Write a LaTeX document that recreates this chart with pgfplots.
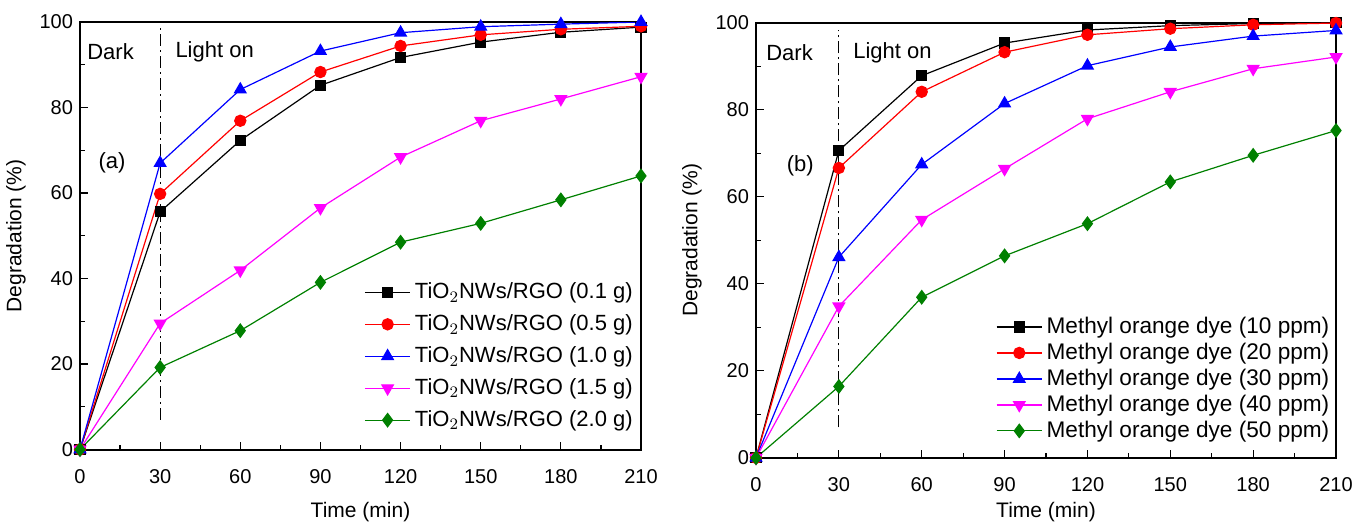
\documentclass[border=0pt]{standalone}
\usepackage{fontspec}
\setmainfont{Liberation Sans}
\usepackage{pgfplots}
\pgfplotsset{compat=1.18}
\definecolor{dgreen}{RGB}{0,128,0}
\definecolor{mag}{RGB}{255,0,255}
\tikzset{txt/.style={anchor=west, inner sep=0pt, font=\fontsize{11}{13}\selectfont}}
\begin{document}
\begin{tikzpicture}
\useasboundingbox (0,0) rectangle (676.5pt,-260.5pt);
\pgfplotsset{
  panel/.style={
    scale only axis,
    anchor=north west,
    xmin=0, xmax=210, ymin=0, ymax=100,
    xtick={0,30,...,210}, ytick={0,20,...,100},
    minor x tick num=1, minor y tick num=1,
    tick align=inside, tick pos=left,
    major tick length=4pt, minor tick length=2.5pt,
    axis line style={line width=1pt},
    every tick/.style={black, line width=0.6pt},
    /pgf/number format/assume math mode=true,
    tick label style={font=\fontsize{10}{12}\selectfont},
    xticklabel style={yshift=-6.5pt},
    label style={font=\fontsize{10.5}{12}\selectfont},
    xlabel={Time (min)}, ylabel={Degradation (\%)},
    legend cell align=left,
    legend style={draw=none, fill=none, inner sep=0pt,
      font=\fontsize{11}{13}\selectfont},
    legend image code/.code={\draw[mark repeat=2,mark phase=2]
      plot coordinates {(0cm,0cm) (0.4cm,0cm) (0.8cm,0cm)};},
    every axis plot/.append style={line width=0.6pt},
  },
  s1/.style={black, mark=square*, mark size=2.5pt},
  s2/.style={red, mark=*, mark size=2.8pt},
  s3/.style={blue, mark=triangle*, mark size=3.3pt},
  s4/.style={mag, mark=triangle*, mark size=3.3pt, mark options={rotate=180}},
  s5/.style={dgreen, mark=diamond*, mark size=3.3pt},
  dd/.style={black, line width=0.6pt, dash pattern=on 6pt off 2pt on 1pt off 2pt, forget plot},
}

% panel (a)
\begin{axis}[panel, at={(40pt,-11pt)}, width=280.5pt, height=213.75pt,
  xlabel style={yshift=-2.5pt},
  legend style={at={(0.993,0.40)}, anchor=north east, row sep=2.5pt}]
\addplot[dd] coordinates {(30,7) (30,99)};
\addplot[s1] coordinates {(0,0) (30,55.6) (60,72.3) (90,85.2) (120,91.7) (150,95.3) (180,97.6) (210,98.8)};
\addlegendentry{TiO$_2$NWs/RGO (0.1 g)}
\addplot[s2] coordinates {(0,0) (30,59.8) (60,76.9) (90,88.3) (120,94.4) (150,97.0) (180,98.3) (210,99.0)};
\addlegendentry{TiO$_2$NWs/RGO (0.5 g)}
\addplot[s3] coordinates {(0,0) (30,67.0) (60,84.2) (90,93.2) (120,97.5) (150,98.9) (180,99.5) (210,100)};
\addlegendentry{TiO$_2$NWs/RGO (1.0 g)}
\addplot[s4] coordinates {(0,0) (30,29.5) (60,41.9) (90,56.5) (120,68.4) (150,76.9) (180,82.0) (210,87.2)};
\addlegendentry{TiO$_2$NWs/RGO (1.5 g)}
\addplot[s5] coordinates {(0,0) (30,19.2) (60,27.8) (90,39.1) (120,48.5) (150,52.9) (180,58.4) (210,64.0)};
\addlegendentry{TiO$_2$NWs/RGO (2.0 g)}
\node[txt] at (axis cs:2.6,93) {Dark};
\node[txt] at (axis cs:35.6,93) {Light on};
\node[font=\fontsize{11}{13}\selectfont] at (axis cs:12,67) {(a)};
\end{axis}

% panel (b)
\begin{axis}[panel, at={(378pt,-11.3pt)}, width=290pt, height=217.6pt,
  xlabel style={yshift=1.5pt},
  legend style={at={(0.996,0.333)}, anchor=north east, row sep=-0.7pt,
    font=\fontsize{11.3}{13}\selectfont}]
\addplot[dd] coordinates {(30,7) (30,98.3)};
\addplot[s1] coordinates {(0,0) (30,70.6) (60,87.8) (90,95.3) (120,98.3) (150,99.3) (180,99.8) (210,100)};
\addlegendentry{Methyl orange dye (10 ppm)}
\addplot[s2] coordinates {(0,0) (30,66.6) (60,84.1) (90,93.2) (120,97.2) (150,98.6) (180,99.5) (210,99.9)};
\addlegendentry{Methyl orange dye (20 ppm)}
\addplot[s3] coordinates {(0,0) (30,46.1) (60,67.4) (90,81.4) (120,90.1) (150,94.4) (180,96.9) (210,98.2)};
\addlegendentry{Methyl orange dye (30 ppm)}
\addplot[s4] coordinates {(0,0) (30,34.8) (60,54.7) (90,66.4) (120,77.9) (150,84.1) (180,89.4) (210,92.1)};
\addlegendentry{Methyl orange dye (40 ppm)}
\addplot[s5] coordinates {(0,0) (30,16.4) (60,36.9) (90,46.4) (120,53.8) (150,63.4) (180,69.5) (210,75.2)};
\addlegendentry{Methyl orange dye (50 ppm)}
\node[txt] at (axis cs:3.6,93) {Dark};
\node[txt] at (axis cs:35.1,93) {Light on};
\node[font=\fontsize{11}{13}\selectfont] at (axis cs:16,67) {(b)};
\end{axis}
\end{tikzpicture}
\end{document}
